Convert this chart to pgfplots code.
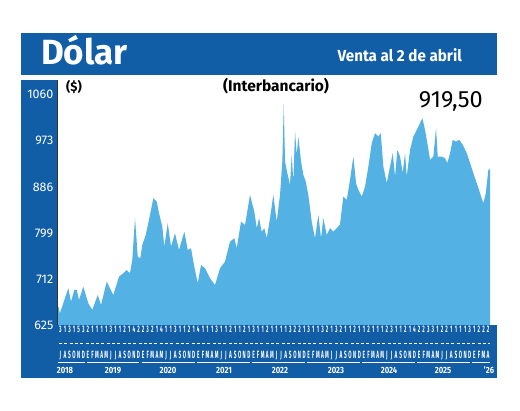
\documentclass[border=0pt]{standalone}
\usepackage{fontspec}
\setmainfont{Fira Sans}
\usepackage{pgfplots}
\pgfplotsset{compat=1.18}
\definecolor{hdrblue}{RGB}{17,94,167}
\definecolor{areablue}{RGB}{84,177,227}
\pgfplotstableread{
m v
0.0 660
0.1 659.6
0.4 647.1
1.15 666.0
2.24 694.4
2.83 669.1
3.54 691.2
4.07 691.2
4.57 672.3
5.5 697.4
6.59 666.0
7.46 653.4
8.63 681.7
9.35 662.8
10.59 706.9
12.02 681.7
13.26 716.3
14.2 722.8
14.93 729.0
15.65 722.8
16.15 747.9
16.74 826.8
17.33 754.2
17.89 751.1
18.33 776.3
19.07 795.2
19.78 823.6
20.72 864.6
21.46 858.2
21.96 836.2
22.67 810.9
23.11 773.1
23.85 817.3
24.57 773.1
25.43 798.4
26.3 766.8
27.46 801.4
28.2 766.8
28.91 770.0
29.63 735.2
30.37 703.9
31.09 738.5
31.96 732.2
33.04 713.3
34.13 700.6
35.22 732.2
36.3 744.7
37.39 782.5
38.33 789.0
38.85 770.0
39.78 820.3
40.65 814.1
41.74 870.8
42.67 839.3
43.2 807.9
43.7 826.8
44.28 801.4
44.85 807.9
45.37 789.0
46.09 826.8
46.8 870.8
47.54 820.3
48.26 870.8
48.76 933.8
49.07 1041.0
49.35 933.8
49.93 908.7
50.43 889.7
50.8 946.5
51.15 896.0
51.52 990.5
51.89 946.5
52.24 981.1
52.83 933.8
53.33 908.7
53.85 896.0
54.41 870.8
55.15 820.3
55.87 789.0
56.59 833.0
57.17 789.0
57.67 826.8
58.41 795.2
59.13 807.9
59.85 801.4
60.59 807.9
61.3 815.0
62.02 867.6
62.76 861.4
63.48 899.2
64.2 943.3
64.78 893.0
65.28 880.3
66.02 867.6
66.74 886.5
67.46 924.3
68.2 968.6
68.91 987.5
69.63 981.1
70.15 987.5
70.72 924.3
71.46 893.0
72.17 924.3
72.76 949.7
73.26 905.4
73.76 955.9
74.35 943.3
74.93 911.9
75.43 949.7
75.8 905.4
76.52 955.9
77.24 981.1
77.98 993.7
78.7 1006.4
79.2 1015.9
79.78 993.7
80.28 968.6
80.87 937.0
81.59 943.3
82.17 997.0
82.54 943.3
83.41 943.3
84.13 940.2
84.63 930.8
85.22 949.7
85.8 974.8
86.52 971.6
87.24 974.8
87.98 965.4
88.85 949.7
89.57 930.8
90.28 911.9
91.02 893.0
91.74 874.0
92.46 855.1
92.98 874.0
93.54 918.1
93.9 919.5
}\dolar
\begin{document}
\begin{tikzpicture}
\begin{scope}[x=1pt,y=1pt]
\fill[white] (0,0) rectangle (520,411);
\fill[hdrblue] (21,336) rectangle (497,378);
\fill[hdrblue] (21,33) rectangle (57.5,331);
\fill[hdrblue] (21,33) rectangle (497,86);
\node[anchor=base west, white, font=\fontsize{35}{35}\selectfont\bfseries, inner sep=0] at (41,346) {Dólar};
\node[anchor=base east, white, font=\fontsize{16}{16}\selectfont\bfseries, inner sep=0, xscale=0.95] at (462,349) {Venta al 2 de abril};
\end{scope}
\begin{axis}[
  at={(58pt,86pt)}, anchor=south west,
  scale only axis, width=432pt, height=245pt,
  xmin=0, xmax=93.9, ymin=625, ymax=1088,
  clip=false,
  axis line style={draw=none},
  xtick=\empty,
  ytick={625,712,799,886,973,1060},
  yticklabels={625,712,799,886,973,1060},
  major tick length=0pt,
  yticklabel style={white, anchor=east, inner sep=0pt, xshift=-4.5pt, font=\fontsize{12.5}{12.5}\selectfont},
]
\addplot[fill=areablue, draw=none] table[x=m, y=v] {\dolar} \closedcycle;
\end{axis}
\begin{scope}[x=1pt,y=1pt]
\draw[black!80, line width=0.8pt] (57.6,86) -- (57.6,331);
\node[anchor=base west, inner sep=0, font=\fontsize{13}{13}\selectfont\bfseries] at (66,319) {(\$)};
\node[anchor=base, inner sep=0, font=\fontsize{15.5}{15.5}\selectfont\bfseries] at (276,319) {(Interbancario)};
\node[anchor=base east, inner sep=0, font=\fontsize{23.5}{23.5}\selectfont] at (483,303) {919,50};
% bottom band
\foreach \d [count=\i from 0] in {3,1,3,1,5,3,2,1,1,1,1,3,1,1,2,1,4,2,2,3,2,1,4,1,1,3,1,1,2,1,4,
  1,1,1,3,1,1,2,1,1,2,1,3,
  1,1,2,1,1,1,1,3,2,2,1,3,1,1,3,2,1,3,2,1,1,2,1,1,2,1,1,1,2,3,1,1,2,1,4,2,2,3,3,1,2,2,1,1,1,1,3,1,2,2,2}
  \node[anchor=base, white, inner sep=0, xscale=0.5, font=\fontsize{9.5}{9.5}\selectfont\bfseries] at ({58+(\i+0.5)*4.6},78.5) {\d};
\draw[white, line width=0.8pt, dash pattern=on 3pt off 2.3pt] (59,68) -- (490,68);
\foreach \l [count=\i from 0] in {J,A,S,O,N,D,
  E,F,M,A,M,J,J,A,S,O,N,D,E,F,M,A,M,J,J,A,S,O,N,D,
  E,F,M,A,M,J,J,A,S,O,N,D,E,F,M,A,M,J,J,A,S,O,N,D,
  E,F,M,A,M,J,J,A,S,O,N,D,E,F,M,A,M,J,J,A,S,O,N,D,
  E,F,M,A,M,J,J,A,S,O,N,D,E,F,M,A}
  \node[anchor=base, white, inner sep=0, xscale=0.45, font=\fontsize{10.5}{10.5}\selectfont\bfseries] at ({58+(\i+0.5)*4.6},52.5) {\l};
\foreach \a/\b in {58/85,87/139,142/195,197/250,252/305,307/360,362/415,417/470,472/490}
  \draw[white, line width=0.6pt] (\a,49) -- (\b,49);
\foreach \x/\y in {65/2018,113/2019,168/2020,224/2021,280/2022,336/2023,389/2024,443/2025,489/'26}
  \node[anchor=base, white, inner sep=0, xscale=0.85, font=\fontsize{9}{9}\selectfont\bfseries] at (\x,37) {\y};
\end{scope}
\end{tikzpicture}
\end{document}
